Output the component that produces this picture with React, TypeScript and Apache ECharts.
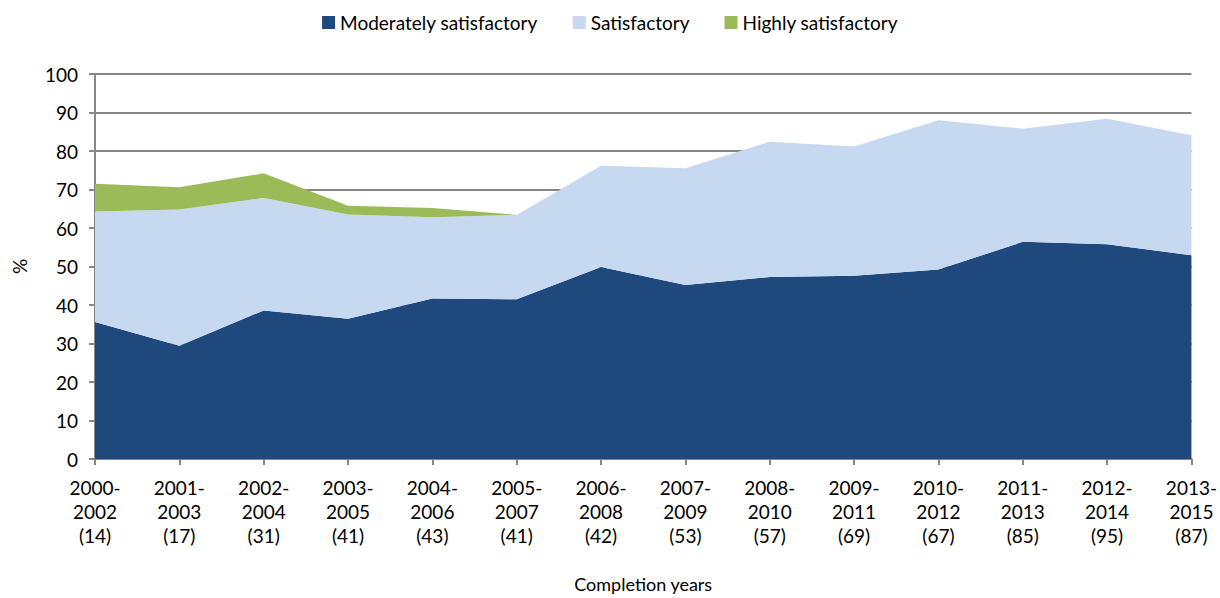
import React, { useEffect, useRef } from "react";
import * as echarts from "echarts";

const periods = ["2000-\n2002\n(14)", "2001-\n2003\n(17)", "2002-\n2004\n(31)", "2003-\n2005\n(41)", "2004-\n2006\n(43)", "2005-\n2007\n(41)", "2006-\n2008\n(42)", "2007-\n2009\n(53)", "2008-\n2010\n(57)", "2009-\n2011\n(69)", "2010-\n2012\n(67)", "2011-\n2013\n(85)", "2012-\n2014\n(95)", "2013-\n2015\n(87)"];
const moderately = [35.6, 29.4, 38.6, 36.4, 41.7, 41.5, 49.9, 45.2, 47.3, 47.6, 49.2, 56.4, 55.8, 52.9];
const satisfactory = [28.7, 35.4, 29.2, 27.1, 21.1, 21.9, 26.3, 30.3, 35.1, 33.6, 38.8, 29.4, 32.6, 31.2];
const highly = [7.2, 5.8, 6.4, 2.3, 2.4, 0, 0, 0, 0, 0, 0, 0, 0, 0];
const legendNames = ["Moderately satisfactory", "Satisfactory", "Highly satisfactory"];

const FONT = "Lato, 'Open Sans', sans-serif";

export default function App() {
  const ref = useRef<HTMLDivElement>(null);
  useEffect(() => {
    if (!ref.current) return;
    const chart = echarts.init(ref.current, null, { renderer: "svg" });
    const mk = (name: string, data: number[], color: string) => ({
      name,
      type: "line",
      stack: "total",
      data,
      symbol: "none",
      lineStyle: { width: 0 },
      areaStyle: { color, opacity: 1 },
      itemStyle: { color },
      z: 3,
    });
    chart.setOption({
      animation: false,
      textStyle: { fontFamily: FONT },
      legend: {
        top: 8,
        left: "center",
        itemWidth: 13,
        itemHeight: 13,
        itemGap: 35,
        icon: "rect",
        textStyle: { fontSize: 19, color: "#000", fontFamily: FONT },
        data: legendNames,
      },
      grid: { left: 95, right: 25, top: 74, bottom: 135 },
      xAxis: {
        type: "category",
        data: periods,
        boundaryGap: false,
        name: "Completion years",
        nameLocation: "middle",
        nameGap: 116,
        nameTextStyle: { fontSize: 18, color: "#000", fontFamily: FONT },
        axisLine: { lineStyle: { color: "#868686", width: 2 } },
        axisTick: { show: true, length: 6, alignWithLabel: true, lineStyle: { color: "#868686", width: 2 } },
        axisLabel: { color: "#000", fontSize: 19, lineHeight: 24, margin: 16, interval: 0, fontFamily: FONT },
        splitLine: { show: false },
      },
      yAxis: {
        type: "value",
        min: 0,
        max: 100,
        interval: 10,
        name: "%",
        nameLocation: "middle",
        nameGap: 66,
        nameRotate: 90,
        nameTextStyle: { fontSize: 19, color: "#000", fontFamily: FONT },
        axisLine: { show: true, lineStyle: { color: "#868686", width: 2 } },
        axisTick: { show: true, length: 6, lineStyle: { color: "#868686", width: 2 } },
        axisLabel: { color: "#000", fontSize: 19, margin: 17, fontFamily: FONT },
        splitLine: { show: true, lineStyle: { color: "#868686", width: 2 } },
      },
      series: [
        mk(legendNames[0], moderately, "#1F497D"),
        mk(legendNames[1], satisfactory, "#C6D9F1"),
        mk(legendNames[2], highly, "#9BBB59"),
      ],
    });
    return () => chart.dispose();
  }, []);
  return <div ref={ref} style={{ width: 1220, height: 598, position: "absolute", left: 0, top: 0 }} />;
}
